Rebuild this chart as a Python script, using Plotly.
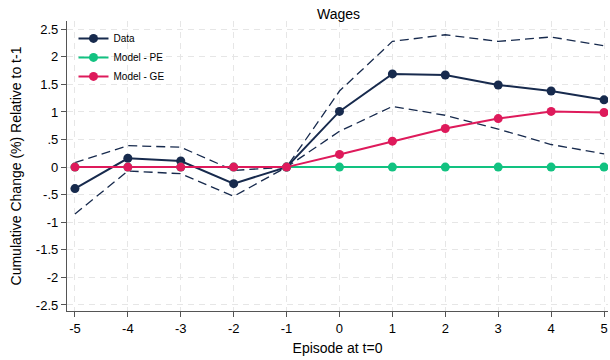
import plotly.graph_objects as go

# Event-time periods relative to the episode (t=0)
periods = [-5, -4, -3, -2, -1, 0, 1, 2, 3, 4, 5]

# Estimated cumulative wage change (%) and its confidence band
data_est = [-0.39, 0.16, 0.11, -0.30, 0.0, 1.01, 1.69, 1.67, 1.49, 1.38, 1.22]
data_upper = [0.08, 0.39, 0.36, -0.06, 0.0, 1.38, 2.28, 2.40, 2.28, 2.36, 2.20]
data_lower = [-0.85, -0.07, -0.12, -0.53, 0.0, 0.65, 1.10, 0.94, 0.69, 0.41, 0.24]

# Model predictions: partial equilibrium and general equilibrium
model_pe = [0.0, 0.0, 0.0, 0.0, 0.0, 0.0, 0.0, 0.0, 0.0, 0.0, 0.0]
model_ge = [0.0, 0.0, 0.0, 0.0, 0.0, 0.23, 0.47, 0.70, 0.88, 1.01, 0.99]

y_ticks = [2.5, 2, 1.5, 1, 0.5, 0, -0.5, -1, -1.5, -2, -2.5]
y_tick_labels = ["2.5", "2", "1.5", "1", ".5", "0", "-.5", "-1", "-1.5", "-2", "-2.5"]

NAVY = "#172a4d"
GREEN = "#12c281"
PINK = "#de1a5b"
FONT = "Liberation Sans, Arial, sans-serif"

fig = go.Figure()

for band in (data_upper, data_lower):
    fig.add_trace(go.Scatter(
        x=periods, y=band, mode="lines",
        line=dict(color=NAVY, width=1.3, dash="9px,5px"),
        showlegend=False, hoverinfo="skip",
    ))

fig.add_trace(go.Scatter(
    x=periods, y=data_est, mode="lines+markers", name="Data",
    line=dict(color=NAVY, width=2), marker=dict(color=NAVY, size=9),
))
fig.add_trace(go.Scatter(
    x=periods, y=model_pe, mode="lines+markers", name="Model - PE",
    line=dict(color=GREEN, width=2), marker=dict(color=GREEN, size=9),
))
fig.add_trace(go.Scatter(
    x=periods, y=model_ge, mode="lines+markers", name="Model - GE",
    line=dict(color=PINK, width=2), marker=dict(color=PINK, size=9),
))

grid = dict(showgrid=True, gridcolor="#e6e6e6", gridwidth=1, griddash="6px,5px")

fig.update_layout(
    width=610, height=360,
    margin=dict(l=67, r=2, t=21, b=49),
    paper_bgcolor="white", plot_bgcolor="white",
    font=dict(family=FONT, color="black", size=13),
    title=dict(text="Wages", x=0.555, xanchor="center", y=0.962, yanchor="middle",
               font=dict(size=14, family=FONT)),
    showlegend=True,
    legend=dict(x=0.012, y=0.99, xanchor="left", yanchor="top",
                bgcolor="rgba(0,0,0,0)", font=dict(size=10, family=FONT),
                itemwidth=30, tracegroupgap=2),
    xaxis=dict(
        range=[-5.15, 5.075], tickmode="array", tickvals=periods,
        ticktext=[str(p) for p in periods],
        showline=True, linecolor="#555555", linewidth=1.3,
        ticks="outside", ticklen=5, tickcolor="#555555",
        zeroline=False, title=dict(text="Episode at t=0", font=dict(size=14), standoff=8),
        **grid,
    ),
    yaxis=dict(
        range=[-2.61, 2.65], tickmode="array", tickvals=y_ticks, ticktext=y_tick_labels,
        showline=True, linecolor="#555555", linewidth=1.3,
        ticks="outside", ticklen=5, tickcolor="#555555",
        zeroline=False,
        title=dict(text="Cumulative Change (%) Relative to t-1", font=dict(size=14), standoff=10),
        **grid,
    ),
)

fig.write_html("out.html")
